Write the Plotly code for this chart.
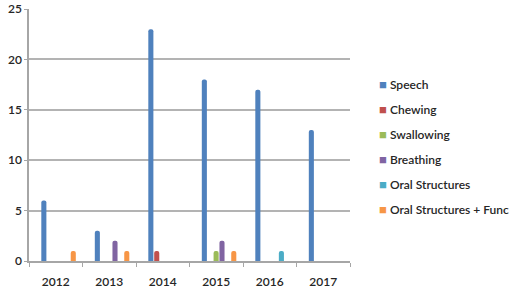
import plotly.graph_objects as go

years = ["2012", "2013", "2014", "2015", "2016", "2017"]
series_names = ["Speech", "Chewing", "Swallowing", "Breathing", "Oral Structures", "Oral Structures + Func"]
speech = [6, 3, 23, 18, 17, 13]
chewing = [0, 0, 1, 0, 0, 0]
swallowing = [0, 0, 0, 1, 0, 0]
breathing = [0, 2, 0, 2, 0, 0]
oral_structures = [0, 0, 0, 0, 1, 0]
oral_func = [1, 1, 0, 1, 0, 0]
y_ticks = [0, 5, 10, 15, 20, 25]

colors = ["#4F81BD", "#C0504D", "#9BBB59", "#8064A2", "#4BACC6", "#F79646"]
values = [speech, chewing, swallowing, breathing, oral_structures, oral_func]

font_family = "Lato, Open Sans, sans-serif"
text_color = "#262626"

fig = go.Figure()
slot = 0.11
bar_w = 0.095
start = -0.27
for i, (name, vals, col) in enumerate(zip(series_names, values, colors)):
    xs = [y for y, v in zip(years, vals) if v > 0]
    ys = [v for v in vals if v > 0]
    fig.add_trace(go.Bar(
        x=xs, y=ys, name=name, marker_color=col,
        marker_line_width=0, marker_cornerradius=2,
        width=bar_w, offset=start + i * slot,
        showlegend=False, legendgroup=name,
    ))
    fig.add_trace(go.Scatter(
        x=[None], y=[None], mode="markers", legendgroup=name,
        name=f"<span style='color:{col};font-size:13px'>■</span> {name}",
        marker=dict(symbol="square", size=1, color="rgba(0,0,0,0)"),
    ))

fig.update_layout(
    width=511, height=290,
    margin=dict(l=29, r=161, t=9, b=29, autoexpand=False),
    paper_bgcolor="white", plot_bgcolor="white",
    font=dict(family=font_family, size=12, color=text_color),
    barmode="overlay",
    legend=dict(
        x=0.966, y=0.757, xanchor="left", yanchor="top",
        font=dict(size=12, family=font_family, color=text_color, weight=600),
        tracegroupgap=6, itemwidth=30, bgcolor="rgba(0,0,0,0)",
    ),
    xaxis=dict(
        type="category", categoryorder="array", categoryarray=years,
        showline=True, linecolor="#A6A6A6", linewidth=1.5,
        ticks="outside", tickson="boundaries", ticklen=4, tickcolor="#A6A6A6",
        showgrid=False, range=[-0.5, 5.5],
        tickfont=dict(size=12, weight=600), ticklabelstandoff=9,
    ),
    yaxis=dict(
        range=[0, 25], tickvals=y_ticks, showgrid=True, gridcolor="#B3B3B3", gridwidth=1.5,
        showline=True, linecolor="#A6A6A6", linewidth=1.5, zeroline=False,
        ticks="outside", ticklen=3, tickcolor="#A6A6A6",
        tickfont=dict(size=12, weight=600),
    ),
)

fig.write_html("out.html")
